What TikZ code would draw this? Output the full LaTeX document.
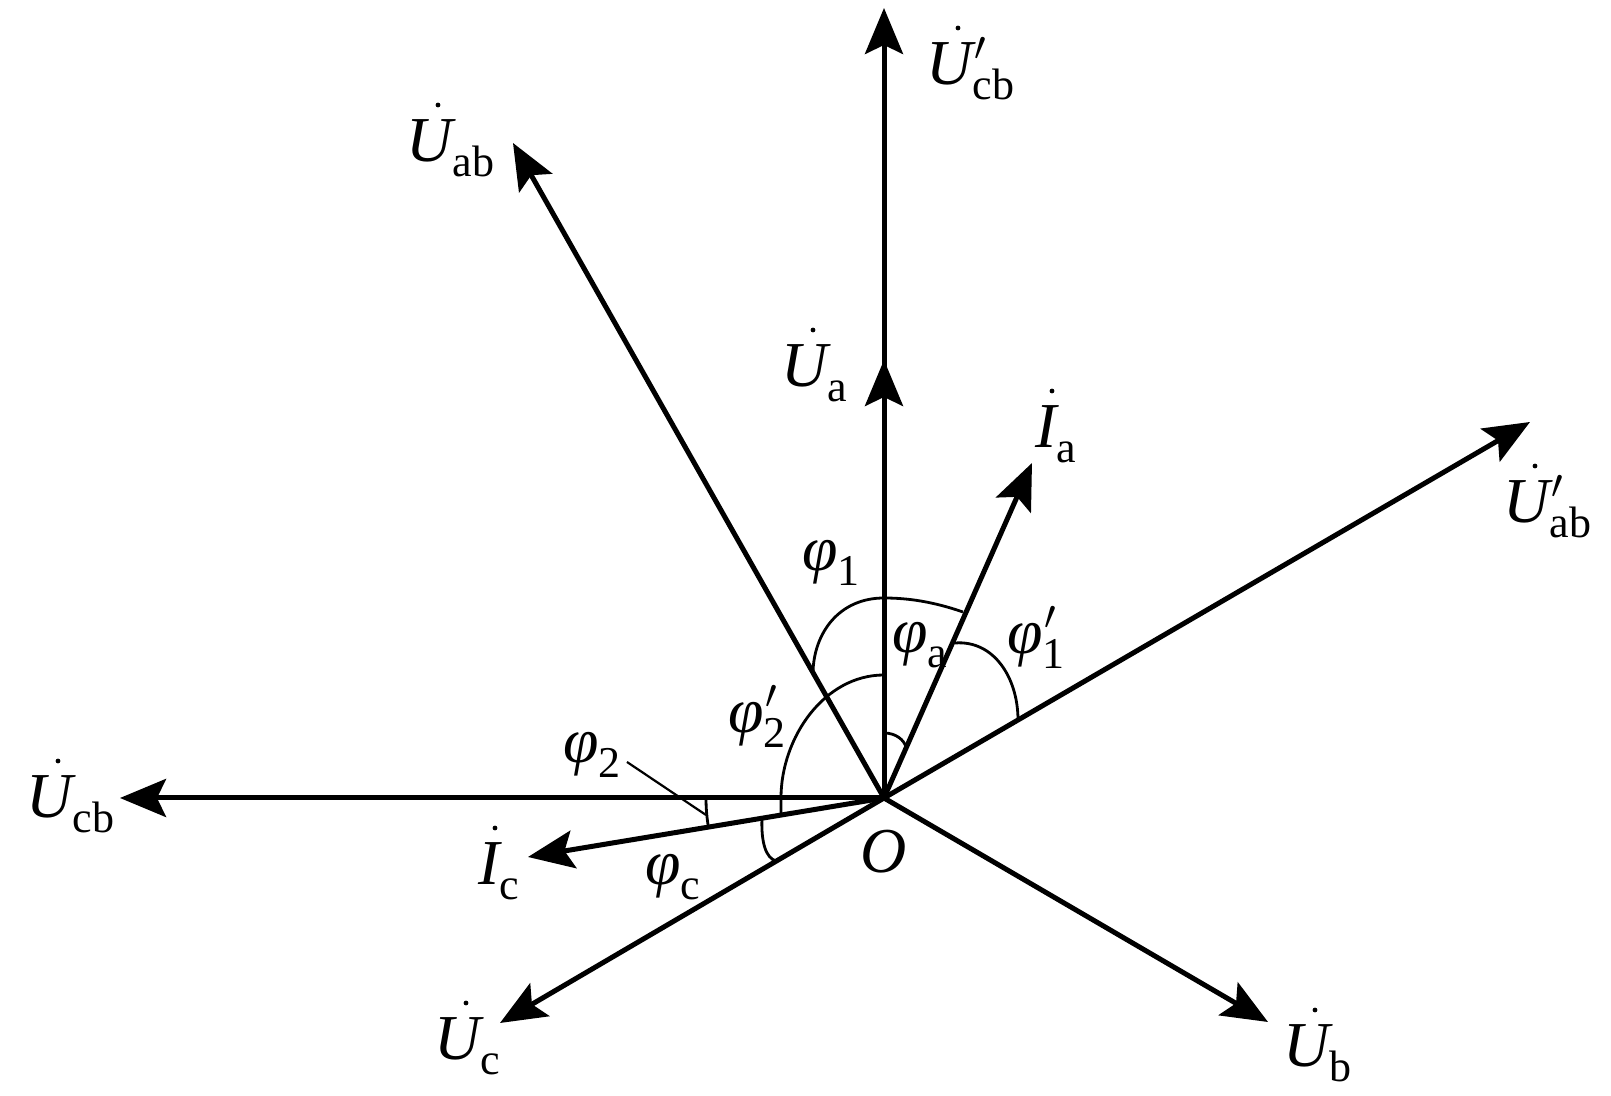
\documentclass[tikz,border=0pt]{standalone}
\usepackage{fontspec}
\setmainfont{Liberation Serif}
\usetikzlibrary{arrows.meta}
\newcommand\sbs[1]{\raisebox{-7.5pt}{\fontsize{22}{22}\selectfont\upshape #1}}
\newcommand\prm[1][12pt]{\rlap{\kern1pt\smash{\raisebox{#1}{\fontsize{20}{20}\selectfont$\prime$}}}}
\begin{document}
\begin{tikzpicture}[x=0.5pt,y=0.5pt,
  vec/.style={line width=2.5pt,-{Stealth[length=23pt,width=19pt,inset=4.5pt]}},
  ang/.style={line width=1.4pt},
  leader/.style={line width=1.1pt},
  accdot/.style={fill=black},
  lab/.style={anchor=base west,inner sep=0pt,font=\fontsize{32}{38}\selectfont\itshape}]
\useasboundingbox (-884,-298) rectangle (727,798);
\coordinate (O) at (0,0);
\coordinate (Ucbp) at (0,790);
\coordinate (Uab) at (-371,655);
\coordinate (Uabp) at (646,376);
\coordinate (Ucb) at (-764,0);
\coordinate (Uc) at (-384,-225);
\coordinate (Ub) at (384,-224);
\coordinate (Ua) at (0,438);
\coordinate (Ia) at (148,335);
\coordinate (Ic) at (-356,-59);
\coordinate (L1) at (-257,36);
\coordinate (L2) at (-178,-17);
% vectors
\draw[vec] (O) -- (Ucbp);
\draw[vec] (O) -- (Ua);
\draw[vec] (O) -- (Uab);
\draw[vec] (O) -- (Uabp);
\draw[vec] (O) -- (Ucb);
\draw[vec] (O) -- (Uc);
\draw[vec] (O) -- (Ub);
\draw[vec] (O) -- (Ia);
\draw[vec] (O) -- (Ic);
% angle arcs
\draw[ang] (79,186) .. controls (50,196) and (25,200) .. (0,200)
                    .. controls (-45,200) and (-70,165) .. (-71,126);
\draw[ang] (71,155) .. controls (110,158) and (134,120) .. (134,78);
\draw[ang] (0,65) .. controls (12,65) and (20,58) .. (22,51);
\draw[ang] (0,123) .. controls (-60,123) and (-103,60) .. (-103,0) -- (-103,-17);
\draw[ang] (180:178) arc[start angle=180,end angle=189.4,radius=178];
\draw[ang] (-122,-20) .. controls (-123,-45) and (-118,-60) .. (-108,-63);
\draw[leader] (L1) -- (L2);
% labels
\node[lab] (lUcbp) at (42,713) {U\prm\sbs{cb}};
\node[lab] (lUab) at (-478,636) {U\sbs{ab}};
\node[lab] (lUabp) at (619,275) {U\prm\sbs{ab}};
\node[lab] (lUa) at (-103,411) {U\sbs{a}};
\node[lab] (lIa) at (151,350) {I\sbs{a}};
\node[lab] (lUcb) at (-858,-20) {U\sbs{cb}};
\node[lab] (lUc) at (-450,-262) {U\sbs{c}};
\node[lab] (lUb) at (399,-269) {U\sbs{b}};
\node[lab] (lIc) at (-406,-87) {I\sbs{c}};
\node[lab] (p2) at (-321,35) {φ\sbs{2}};
\node[lab] (pc) at (-239,-87) {φ\sbs{c}};
\node[lab] (p2p) at (-156,65) {φ\prm\sbs{2}};
\node[lab] (pa) at (8,145) {φ\sbs{a}};
\node[lab] (p1p) at (123,144) {φ\prm\sbs{1}};
\node[lab] (p1) at (-82,227) {φ\sbs{1}};
\node[lab] (lO) at (-24,-75) {O};
% dots above U and I
\foreach \n in {lUcbp,lUab,lUabp,lUa,lUcb,lUc,lUb}
  \fill[accdot] ([xshift=16pt,yshift=28.5pt]\n.base west) circle[radius=1.2pt];
\foreach \n in {lIa,lIc}
  \fill[accdot] ([xshift=8.5pt,yshift=28.5pt]\n.base west) circle[radius=1.2pt];
\end{tikzpicture}
\end{document}
